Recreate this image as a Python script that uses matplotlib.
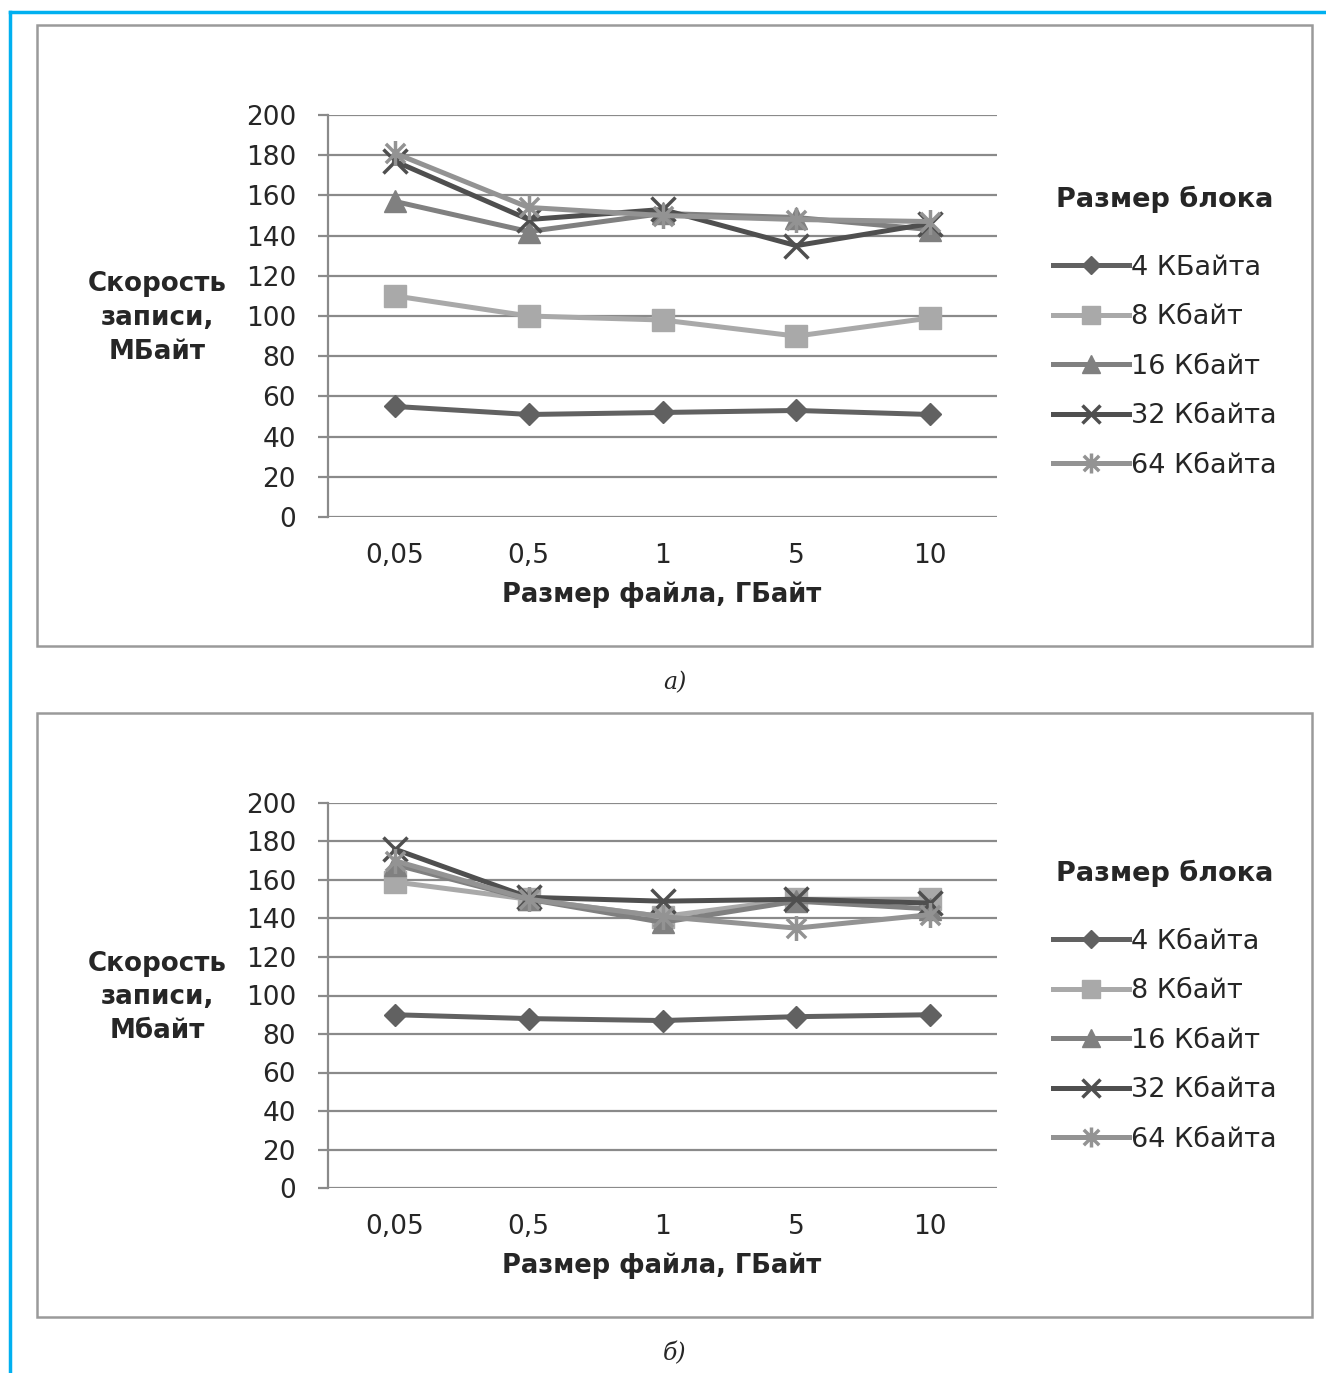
import matplotlib
matplotlib.use('Agg')
import matplotlib.pyplot as plt
from matplotlib.path import Path
from matplotlib.patches import Rectangle
from matplotlib.lines import Line2D

# Data
file_sizes = ['0,05', '0,5', '1', '5', '10']

speed_a_4 = [55, 51, 52, 53, 51]
speed_a_8 = [110, 100, 98, 90, 99]
speed_a_16 = [157, 142, 151, 149, 143]
speed_a_32 = [177, 148, 153, 135, 146]
speed_a_64 = [181, 154, 150, 148, 147]

speed_b_4 = [90, 88, 87, 89, 90]
speed_b_8 = [159, 150, 141, 150, 150]
speed_b_16 = [168, 150, 138, 149, 145]
speed_b_32 = [176, 151, 149, 150, 148]
speed_b_64 = [170, 150, 141, 135, 142]

labels_a = ['4 КБайта', '8 Кбайт', '16 Кбайт', '32 Кбайта', '64 Кбайта']
labels_b = ['4 Кбайта', '8 Кбайт', '16 Кбайт', '32 Кбайта', '64 Кбайта']
y_ticks = [0, 20, 40, 60, 80, 100, 120, 140, 160, 180, 200]

W, H = 1326, 1373

# asterisk marker like in Excel: X plus vertical bar
asterisk = Path([(-1, -1), (1, 1), (-1, 1), (1, -1), (0, -1.3), (0, 1.3)],
                [Path.MOVETO, Path.LINETO, Path.MOVETO, Path.LINETO, Path.MOVETO, Path.LINETO])

styles = [
    dict(color='#616161', marker='D', markersize=11),
    dict(color='#a9a9a9', marker='s', markersize=16),
    dict(color='#808080', marker='^', markersize=16),
    dict(color='#4f4f4f', marker='x', markersize=17, markeredgewidth=2.5),
    dict(color='#939393', marker=asterisk, markersize=18, markeredgewidth=2.5),
]
grid_color = '#8a8a8a'
text_color = '#262626'
font = 'DejaVu Sans'


def fx(px):
    return px / W


def fy(py):
    return 1 - py / H


def draw_chart(fig, series, labels, ylabel, top, bottom, box, legend_top, caption):
    """
    Draws one panel: box, axes, lines, labels and legend
    :param top: pixel row of the 200 gridline
    :param bottom: pixel row of the 0 gridline
    :param box: (top, bottom) pixel rows of the panel frame
    :param legend_top: pixel row of the legend's upper edge
    """
    fig.add_artist(Rectangle((fx(37), fy(box[1])), fx(1312) - fx(37), fy(box[0]) - fy(box[1]),
                             transform=fig.transFigure, fill=False,
                             edgecolor='#9a9a9a', linewidth=1.8))
    ax = fig.add_axes([fx(328), fy(bottom), fx(997) - fx(328), fy(top) - fy(bottom)])
    x = list(range(len(file_sizes)))
    for values, label, st in zip(series, labels, styles):
        ax.plot(x, values, linewidth=3.6, label=label, **st)
    ax.set_xlim(-0.5, len(file_sizes) - 0.5)
    ax.set_ylim(0, 200)
    ax.set_yticks(y_ticks)
    ax.set_xticks(x)
    ax.set_xticklabels(file_sizes)
    ax.grid(axis='y', color=grid_color, linewidth=1.6)
    ax.set_axisbelow(True)
    for s in ['top', 'right']:
        ax.spines[s].set_visible(False)
    ax.spines['left'].set_color(grid_color)
    ax.spines['left'].set_linewidth(1.6)
    ax.spines['bottom'].set_visible(False)
    ax.tick_params(axis='y', length=7, width=1.6, color=grid_color, pad=16,
                   labelsize=19, labelcolor=text_color)
    ax.tick_params(axis='x', length=0, pad=19, labelsize=19, labelcolor=text_color)
    fig.text(fx(157), fy((top + bottom) / 2 + 2), ylabel, ha='center', va='center',
             fontsize=18.8, fontweight='bold', color=text_color, linespacing=1.38)
    fig.text(fx(662), fy(bottom + 78), 'Размер файла, ГБайт', ha='center', va='center',
             fontsize=18.5, fontweight='bold', color=text_color)
    leg = ax.legend(loc='upper left', bbox_to_anchor=(fx(1042), fy(legend_top)),
                    bbox_transform=fig.transFigure, frameon=False, fontsize=19.5,
                    title='Размер блока', handlelength=2.8, handletextpad=0.1,
                    labelspacing=0.87, borderaxespad=0, markerscale=0.8)
    leg.get_title().set_fontweight('bold')
    leg.get_title().set_fontsize(19.5)
    leg.get_title().set_color(text_color)
    leg._legend_box.sep = 30
    for t in leg.get_texts():
        t.set_color(text_color)
    fig.text(fx(675), fy(box[1] + 37), caption, ha='center', va='center',
             fontsize=17, style='italic', family='DejaVu Serif', color=text_color)
    return ax


fig = plt.figure(figsize=(W / 100, H / 100), dpi=100)
plt.rcParams['font.family'] = font

# cyan frame on the left and top
fig.add_artist(Line2D([fx(10), fx(10)], [0, fy(12)], transform=fig.transFigure,
                      color='#00b0f0', linewidth=2.5))
fig.add_artist(Line2D([fx(10), 1], [fy(12), fy(12)], transform=fig.transFigure,
                      color='#00b0f0', linewidth=2.5))

draw_chart(fig, [speed_a_4, speed_a_8, speed_a_16, speed_a_32, speed_a_64], labels_a,
           'Скорость\nзаписи,\nМБайт', 115, 517, (25, 646), 175, 'а)')
draw_chart(fig, [speed_b_4, speed_b_8, speed_b_16, speed_b_32, speed_b_64], labels_b,
           'Скорость\nзаписи,\nМбайт', 803, 1188, (713, 1317), 849, 'б)')

fig.savefig('out.png', dpi=100)
